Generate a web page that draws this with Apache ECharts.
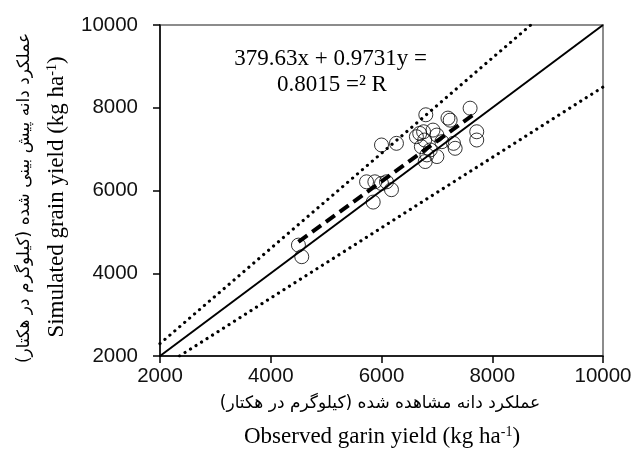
<!DOCTYPE html>
<html><head><meta charset="utf-8">
<script src="https://cdn.jsdelivr.net/npm/echarts@6/dist/echarts.min.js"></script>
<style>html,body{margin:0;padding:0;background:#fff}#c{width:635px;height:450px}</style>
</head><body><div id="c"></div>
<script>
// Observed (x) and simulated (y) grain yield, kg/ha
const observed = [4500,4560,5730,5850,5880,6000,6090,6180,6000,6270,6800,7200,7240,7600,7720,7720,6690,6760,6930,7000,6780,7090,7300,7330,6720,6820,7000,6790,6880,6630];
const simulated = [4680,4400,6210,5720,6210,6170,6210,6020,7100,7140,7830,7750,7700,7990,7420,7220,7380,7420,7460,7340,7220,7180,7140,7020,7060,6860,6820,6700,6980,7300];
const axisRange = [2000, 10000];
const tickInterval = 2000;
const regSlope = 0.9731, regIntercept = 379.63;
const regRange = [4500, 7700];
const upperFactor = 1.15, lowerFactor = 0.85;
const eqLine1 = '379.63x + 0.9731y =';
const eqLine2 = '0.8015 =² R';

const points = observed.map((v,i)=>[v, simulated[i]]);
const oneToOne = axisRange.map(v=>[v,v]);
const regLine = regRange.map(x=>[x, regSlope*x+regIntercept]);
const upper = [[axisRange[0], upperFactor*axisRange[0]], [axisRange[1]/upperFactor, axisRange[1]]];
const lower = [[axisRange[0]/lowerFactor, axisRange[0]], [axisRange[1], lowerFactor*axisRange[1]]];

const chart = echarts.init(document.getElementById('c'), null, {renderer:'canvas'});
const lbl = {color:'#111', fontFamily:'Liberation Sans', fontSize:20.5, formatter:v=>String(v)};
const axisCommon = {
  type:'value', min:axisRange[0], max:axisRange[1], interval:tickInterval,
  splitLine:{show:false},
  axisLine:{show:true, lineStyle:{color:'#000', width:1.5}},
  axisTick:{show:true, inside:false, length:7, lineStyle:{color:'#000', width:1.5}}
};
chart.setOption({
  animation:false,
  grid:{left:160, right:32, top:25, bottom:94, show:true, borderColor:'#8c8c8c', borderWidth:2, backgroundColor:'transparent'},
  xAxis:Object.assign({}, axisCommon, {axisLabel:Object.assign({}, lbl, {margin:10})}),
  yAxis:Object.assign({}, axisCommon, {axisLabel:Object.assign({}, lbl, {margin:22})}),
  series:[
    {type:'line', data:upper, symbol:'none', lineStyle:{color:'#000', width:3.2, type:[0.01,6.5], cap:'round'}, z:2},
    {type:'line', data:lower, symbol:'none', lineStyle:{color:'#000', width:3.2, type:[0.01,6.5], cap:'round'}, z:2},
    {type:'line', data:oneToOne, symbol:'none', lineStyle:{color:'#000', width:2}, z:3},
    {type:'scatter', data:points, symbol:'circle', symbolSize:14,
      itemStyle:{color:'rgba(255,255,255,0)', borderColor:'#000', borderWidth:1}, z:4},
    {type:'line', data:regLine, symbol:'none', lineStyle:{color:'#000', width:4, type:[11,6]}, z:5}
  ],
  graphic:[
    {type:'text', x:427, y:59, style:{text:eqLine1, font:'23px "Liberation Serif"', fill:'#000', align:'right', verticalAlign:'middle'}},
    {type:'text', x:277, y:85, style:{text:eqLine2, font:'23px "Liberation Serif"', fill:'#000', align:'left', verticalAlign:'middle'}},
    {type:'text', x:380, y:404, style:{text:'عملکرد دانه مشاهده شده (کیلوگرم در هکتار)', font:'17px "DejaVu Sans"', fill:'#000', align:'center', verticalAlign:'middle'}},
    {type:'text', x:382, y:437, style:{
      text:'{a|Observed garin yield (kg ha}{s|-1}{a|)}', align:'center', verticalAlign:'middle',
      rich:{a:{font:'23px "Liberation Serif"', fill:'#000'}, s:{font:'14px "Liberation Serif"', fill:'#000', verticalAlign:'top', padding:[0,0,10,0]}}}},
    {type:'text', x:25, y:198, rotation:Math.PI/2, style:{text:'عملکرد دانه پیش بینی شده (کیلوگرم در هکتار)', font:'17px "DejaVu Sans"', fill:'#000', align:'center', verticalAlign:'middle'}},
    {type:'text', x:57, y:197, rotation:Math.PI/2, style:{
      text:'{a|Simulated grain yield (kg ha}{s|-1}{a|)}', align:'center', verticalAlign:'middle',
      rich:{a:{font:'23px "Liberation Serif"', fill:'#000'}, s:{font:'14px "Liberation Serif"', fill:'#000', verticalAlign:'top', padding:[0,0,10,0]}}}}
  ]
});
</script></body></html>
